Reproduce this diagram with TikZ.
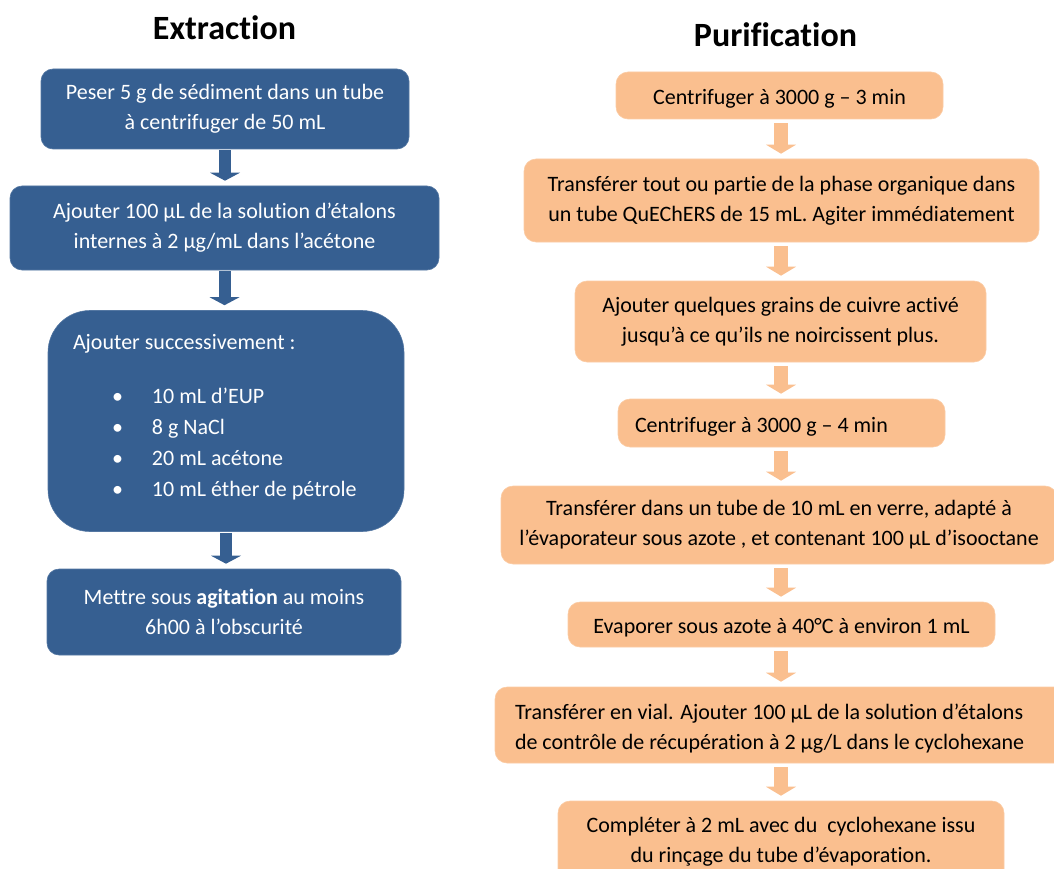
\documentclass[tikz,border=0pt]{standalone}
\usepackage{fontspec}
\setmainfont{Carlito}[Ligatures=NoCommon]
\usetikzlibrary{arrows.meta}

\definecolor{extblue}{HTML}{365F91}
\definecolor{purorange}{HTML}{FABF8F}

\begin{document}
\begin{tikzpicture}[x=1pt,y=-1pt,
title/.style={font=\fontsize{34}{40}\selectfont\bfseries,anchor=base,inner sep=0pt},
txt/.style={font=\fontsize{22}{30}\selectfont,align=center,inner sep=0pt,execute at begin node={\rule{0pt}{22pt}}},
extbox/.style={txt,fill=extblue,draw=extblue!85!white,line width=0.6pt,text=white,rounded corners=12pt},
purbox/.style={txt,fill=purorange,draw=purorange!80!white,line width=0.6pt,text=black,rounded corners=12pt},
extarrow/.style={draw=extblue,line width=12pt,-{Triangle[width=30pt,length=8pt,line width=0pt]},shorten <=1pt,shorten >=5pt},
purarrow/.style={draw=purorange,line width=14pt,-{Triangle[width=30pt,length=9pt,line width=0pt]},shorten <=4pt,shorten >=5pt}]

\clip (0,0) rectangle (1054,869);

% extraction
\node[title] (extitle) at (224.5,40) {Extraction};

\node[extbox,minimum width=368pt,minimum height=80pt] (ex1) at (225,109) {Peser 5 g de sédiment dans un tube\\à centrifuger de 50 mL};

\node[extbox,minimum width=429pt,minimum height=84pt] (ex2) at (224.5,228) {Ajouter 100 µL de la solution d’étalons\\internes à 2 µg/mL dans l’acétone};

\node[extbox,execute at begin node={},rounded corners=42pt,minimum width=356pt,minimum height=221pt,text width=306pt,inner xsep=25pt,align=flush left] (ex3) at (226,421) {Ajouter successivement :\\[24pt]
\hspace*{39pt}\makebox[40pt][l]{•}10 mL d’EUP\\[1pt]
\hspace*{39pt}\makebox[40pt][l]{•}8 g NaCl\\[1pt]
\hspace*{39pt}\makebox[40pt][l]{•}20 mL acétone\\[1pt]
\hspace*{39pt}\makebox[40pt][l]{•}10 mL éther de pétrole\par\vspace*{14pt}};

\node[extbox,minimum width=354pt,minimum height=86pt] (ex4) at (224,612) {Mettre sous \textbf{agitation} au moins\\6h00 à l’obscurité};

\draw[extarrow] (ex1.south) -- (ex1.south |- ex2.north);
\draw[extarrow] (ex2.south) -- (ex2.south |- ex3.north);
\draw[extarrow] (ex3.south) -- (ex3.south |- ex4.north);

% purification
\node[title] (putitle) at (775.5,47) {Purification};
\coordinate (col) at (781,0);

\node[purbox,minimum width=327pt,minimum height=47pt] (pu1) at (779.5,95.5) {Centrifuger à 3000 g – 3 min};

\node[purbox,minimum width=515pt,minimum height=83pt] (pu2) at (781.5,200.5) {Transférer tout ou partie de la phase organique dans\\un tube QuEChERS de 15 mL. Agiter immédiatement};

\node[purbox,minimum width=411pt,minimum height=81pt] (pu3) at (780.5,321.5) {Ajouter quelques grains de cuivre activé\\jusqu’à ce qu’ils ne noircissent plus.};

\node[purbox,minimum height=48pt,text width=293pt,inner xsep=17pt,align=flush left] (pu4) at (781.5,423) {Centrifuger à 3000 g – 4 min};

\node[purbox,minimum width=556pt,minimum height=78pt] (pu5) at (779,525) {Transférer dans un tube de 10 mL en verre, adapté à\\l’évaporateur sous azote , et contenant 100 µL d’isooctane};

\node[purbox,minimum width=427pt,minimum height=45pt] (pu6) at (781.5,624.5) {Evaporer sous azote à 40°C à environ 1 mL};

\node[purbox,minimum height=76pt,text width=532pt,inner xsep=20pt,align=flush left] (pu7) at (781,725) {Transférer en vial. Ajouter 100 µL de la solution d’étalons\\de contrôle de récupération à 2 µg/L dans le cyclohexane};

\node[purbox,minimum width=446pt,minimum height=81pt] (pu8) at (781,841.5) {Compléter à 2 mL avec du~ cyclohexane issu\\du rinçage du tube d’évaporation.};

\foreach \a/\b in {pu1/pu2,pu2/pu3,pu3/pu4,pu4/pu5,pu5/pu6,pu6/pu7,pu7/pu8}
  \draw[purarrow] (\a.south -| col) -- (\b.north -| col);

\end{tikzpicture}
\end{document}
